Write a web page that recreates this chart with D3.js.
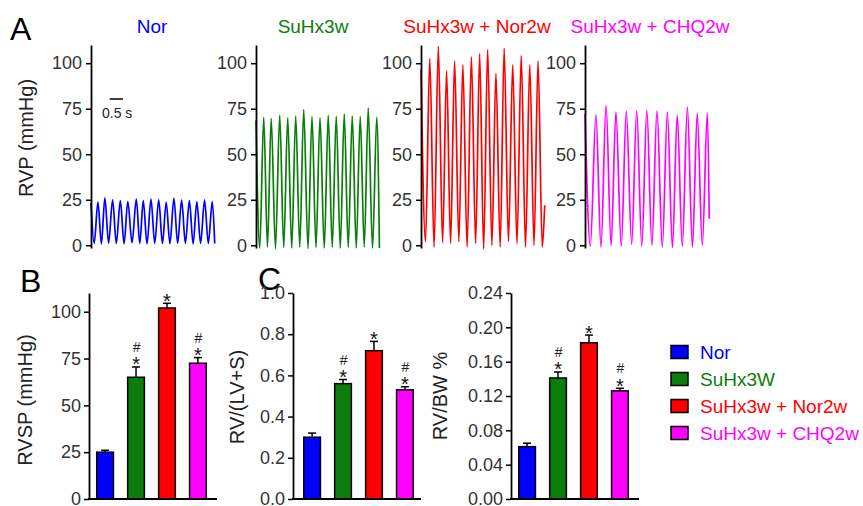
<!DOCTYPE html>
<html>
<head>
<meta charset="utf-8">
<script src="https://cdn.jsdelivr.net/npm/d3@7"></script>
<style>
  body { margin: 0; background: #fff; }
  text { font-family: Arial, "Liberation Sans", sans-serif; }
</style>
</head>
<body>
<script>
// groups
const groups = ["Nor", "SuHx3W", "SuHx3w + Nor2w", "SuHx3w + CHQ2w"];
const traceTitles = ["Nor", "SuHx3w", "SuHx3w + Nor2w", "SuHx3w + CHQ2w"];
const colors = ["#0000ff", "#0b7d0b", "#ff0000", "#ff00ff"];

// panel A: RVP traces, turning points (time in s, pressure in mmHg)
const norT = [0, 0.12, 0.26, 0.39, 0.52, 0.66, 0.81, 0.95, 1.10, 1.24, 1.38, 1.54, 1.70, 1.83, 1.96, 2.10, 2.25, 2.39, 2.54, 2.68, 2.82, 2.96, 3.11, 3.25, 3.40, 3.54, 3.69, 3.83, 3.97, 4.11, 4.26, 4.40, 4.55, 4.64];
const norV = [23.2, 1, 23.7, 0.8, 26, 1.2, 25, 1, 24.5, 0.9, 24, 1.3, 25.3, 1, 24.5, 0.8, 25.3, 1.1, 25, 1, 23.6, 0.9, 25.8, 1.2, 24.8, 1, 24.5, 0.8, 23.8, 1.1, 24.8, 1, 24, 1];
const suhxT = [0, 0.14, 0.29, 0.43, 0.57, 0.73, 0.89, 1.04, 1.19, 1.34, 1.49, 1.64, 1.79, 1.95, 2.10, 2.25, 2.40, 2.56, 2.71, 2.86, 3.01, 3.16, 3.31, 3.46, 3.61, 3.76, 3.91, 4.06, 4.21, 4.37, 4.53, 4.63];
const suhxV = [68.5, -1.5, 70.3, -1, 69.7, -1.8, 71.4, -1.2, 70, -1.5, 71, -1, 74.5, -1.8, 70.7, -1.2, 70, -1.5, 71.4, -1, 70.8, -1.6, 72, -1.2, 71, -1.5, 70.7, -1, 75.4, -1.6, 70.3, -1.5];
const norwT = [0, 0.17, 0.33, 0.49, 0.65, 0.81, 0.96, 1.11, 1.26, 1.42, 1.57, 1.73, 1.89, 2.05, 2.20, 2.35, 2.50, 2.66, 2.81, 2.97, 3.12, 3.28, 3.44, 3.60, 3.76, 3.92, 4.08, 4.24, 4.39, 4.55, 4.64];
const norwV = [96.5, 2, 102.6, -1, 109.3, 1.5, 95.8, 1, 101.3, 2, 99.1, -1, 103.5, 1, 105.3, -2, 107.5, 0, 94.4, -1, 108.2, 2, 99.1, 1, 104.2, -1, 99.1, 0, 101.3, -1, 22];
const chqT = [0, 0.2, 0.41, 0.60, 0.79, 0.98, 1.16, 1.36, 1.55, 1.75, 1.94, 2.13, 2.32, 2.51, 2.70, 2.90, 3.09, 3.28, 3.46, 3.65, 3.84, 4.03, 4.21, 4.40, 4.59, 4.66];
const chqV = [72, -0.5, 71.7, -1, 76.8, 0, 73.2, -0.5, 73.6, 0.5, 73.9, -0.5, 74.1, 0, 73.9, -1, 73.2, -1.3, 71.4, -0.5, 75.9, -1, 72.5, 0, 72.6, 14.5];
const rvpTicks = [0, 25, 50, 75, 100];

// panel B / C: mean and upper error
const rvsp = [25, 65, 102, 72.5];
const rvspErr = [1, 5.5, 2.5, 3];
const fulton = [0.30, 0.56, 0.72, 0.53];
const fultonErr = [0.02, 0.02, 0.045, 0.015];
const rvbw = [0.061, 0.141, 0.182, 0.126];
const rvbwErr = [0.004, 0.007, 0.009, 0.003];
const marks = ["", "*#", "*", "*#"];

const svg = d3.select("body").append("svg")
    .attr("width", 863)
    .attr("height", 506);

// panel letters
[["A", 10, 40], ["B", 20, 292], ["C", 258, 290]].forEach(function(l) {
  svg.append("text").attr("x", l[1]).attr("y", l[2])
    .attr("font-size", "32px").attr("fill", "#000").text(l[0]);
});

function styleAxis(g) {
  g.select(".domain").attr("stroke", "#000").attr("stroke-width", 1.8);
  g.selectAll(".tick line").attr("stroke", "#000").attr("stroke-width", 1.5);
  g.selectAll(".tick text").attr("font-size", "18px").attr("fill", "#333")
    .attr("font-family", "Arial, 'Liberation Sans', sans-serif");
}

// ---- panel A ----
const traces = [[norT, norV], [suhxT, suhxV], [norwT, norwV], [chqT, chqV]];
const traceX = [91, 256, 421, 585];
const titleX = [152, 313, 477, 650];

const yA = d3.scaleLinear().domain([-1.5, 110]).range([248, 45]);

traces.forEach(function(tr, i) {
  const x = d3.scaleLinear().domain([0, 4.7]).range([traceX[i], traceX[i] + 125.3]);
  const pts = tr[0].map(function(t, j) { return [t, tr[1][j]]; });

  svg.append("path")
    .datum(pts)
    .attr("fill", "none")
    .attr("stroke", colors[i])
    .attr("stroke-width", 1.7)
    .attr("stroke-linejoin", "round")
    .attr("d", d3.line()
      .x(function(d) { return x(d[0]); })
      .y(function(d) { return yA(d[1]); })
      .curve(d3.curveMonotoneX));

  const ax = svg.append("g")
    .attr("transform", `translate(${traceX[i]},0)`)
    .call(d3.axisLeft(yA).tickValues(rvpTicks).tickSize(5).tickSizeOuter(0).tickPadding(4));
  styleAxis(ax);

  svg.append("text")
    .attr("x", titleX[i]).attr("y", 33)
    .attr("text-anchor", "middle")
    .attr("font-size", "19px")
    .attr("fill", colors[i])
    .text(traceTitles[i]);

  // scale bar in the first trace
  if (i == 0) {
    svg.append("line")
      .attr("x1", x(0.7)).attr("x2", x(1.2))
      .attr("y1", 99).attr("y2", 99)
      .attr("stroke", "#000").attr("stroke-width", 1.5);
    svg.append("text")
      .attr("x", 102).attr("y", 118)
      .attr("font-size", "14px").attr("fill", "#222")
      .text("0.5 s");
  }
});

svg.append("text")
  .attr("transform", "translate(33,138) rotate(-90)")
  .attr("text-anchor", "middle")
  .attr("font-size", "20px").attr("fill", "#222")
  .text("RVP (mmHg)");

// ---- panels B and C ----
function barPanel(opt) {
  const y = d3.scaleLinear().domain([0, opt.max]).range([499, 293]);
  const x = d3.scaleBand().domain(groups)
      .range([opt.ax + opt.off, opt.ax + opt.off + 125])
      .paddingInner(0.46).paddingOuter(0.25);

  const g = svg.append("g");

  g.selectAll("rect.bar")
    .data(opt.values)
    .join("rect")
      .attr("class", "bar")
      .attr("x", function(d, i) { return x(groups[i]); })
      .attr("y", function(d) { return y(d); })
      .attr("width", x.bandwidth())
      .attr("height", function(d) { return y(0) - y(d); })
      .attr("fill", function(d, i) { return colors[i]; })
      .attr("stroke", "#000")
      .attr("stroke-width", 1.5);

  // upper error bars
  opt.values.forEach(function(v, i) {
    const cx = x(groups[i]) + x.bandwidth() / 2;
    const top = y(v + opt.err[i]);
    g.append("line").attr("x1", cx).attr("x2", cx)
      .attr("y1", y(v)).attr("y2", top)
      .attr("stroke", "#000").attr("stroke-width", 1.5);
    g.append("line").attr("x1", cx - 4).attr("x2", cx + 4)
      .attr("y1", top).attr("y2", top)
      .attr("stroke", "#000").attr("stroke-width", 1.5);

    if (marks[i].indexOf("*") >= 0) {
      g.append("text").attr("x", cx).attr("y", top - 7 + 11.5)
        .attr("text-anchor", "middle").attr("font-size", "20px")
        .attr("fill", "#111").text("*");
    }
    if (marks[i].indexOf("#") >= 0) {
      g.append("text").attr("x", cx + 0.5).attr("y", top - 20 + 5)
        .attr("text-anchor", "middle").attr("font-size", "14px")
        .attr("fill", "#222").text("#");
    }
  });

  const ay = svg.append("g")
    .attr("transform", `translate(${opt.ax},0)`)
    .call(d3.axisLeft(y).tickValues(opt.ticks).tickFormat(opt.fmt)
      .tickSize(5).tickSizeOuter(0).tickPadding(3));
  styleAxis(ay);

  svg.append("line")
    .attr("x1", opt.ax - 1).attr("x2", opt.ax + 128)
    .attr("y1", 499).attr("y2", 499)
    .attr("stroke", "#000").attr("stroke-width", 1.8);

  svg.append("text")
    .attr("transform", `translate(${opt.lx},${opt.ly}) rotate(-90)`)
    .attr("text-anchor", "middle")
    .attr("font-size", "20px").attr("fill", "#222")
    .text(opt.label);
}

barPanel({ ax: 89, off: 0, max: 110, values: rvsp, err: rvspErr,
  ticks: [0, 25, 50, 75, 100], fmt: d3.format("d"),
  label: "RVSP (mmHg)", lx: 32, ly: 400 });
barPanel({ ax: 293, off: 3, max: 1.0, values: fulton, err: fultonErr,
  ticks: [0, 0.2, 0.4, 0.6, 0.8, 1.0], fmt: d3.format(".1f"),
  label: "RV/(LV+S)", lx: 244, ly: 397 });
barPanel({ ax: 511, off: 0, max: 0.24, values: rvbw, err: rvbwErr,
  ticks: [0, 0.04, 0.08, 0.12, 0.16, 0.20, 0.24], fmt: d3.format(".2f"),
  label: "RV/BW %", lx: 447, ly: 396 });

// legend
const legend = svg.append("g").attr("transform", "translate(671,352)");
groups.forEach(function(name, i) {
  legend.append("rect")
    .attr("x", 0).attr("y", i * 27 - 6.5)
    .attr("width", 17).attr("height", 13)
    .attr("fill", colors[i]).attr("stroke", "#000").attr("stroke-width", 1.5);
  legend.append("text")
    .attr("x", 29).attr("y", i * 27 + 7)
    .attr("font-size", "19px").attr("fill", colors[i])
    .text(name);
});
</script>
</body>
</html>
